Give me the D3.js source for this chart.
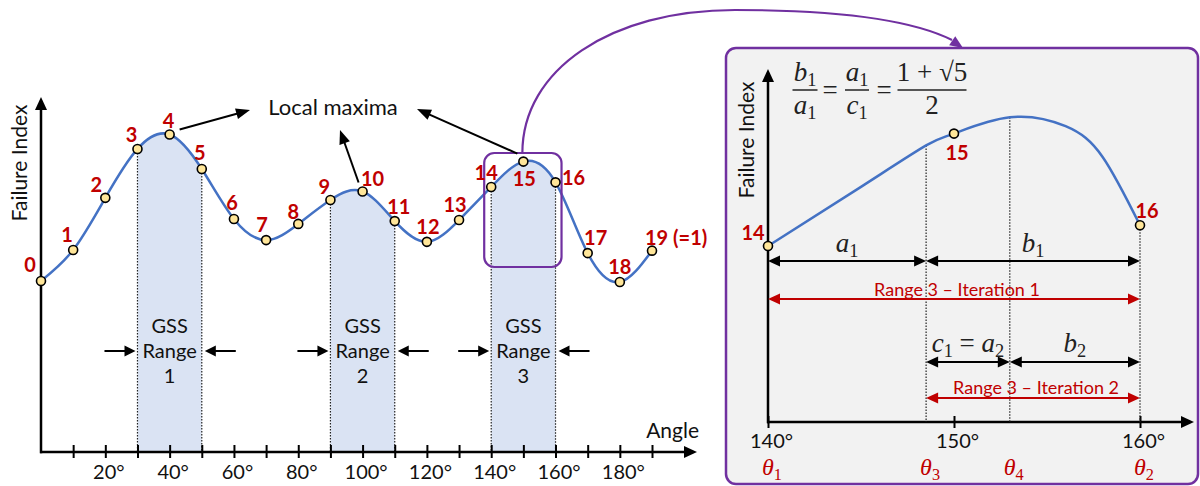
<!DOCTYPE html>
<html><head><meta charset="utf-8">
<script src="https://cdn.jsdelivr.net/npm/d3@7"></script>
<style>body{margin:0;background:#fff} svg{display:block}</style>
</head><body>
<svg id="c" width="1200" height="486"></svg>
<script>
// ---------- data ----------
const angles = [0,10,20,30,40,50,60,70,80,90,100,110,120,130,140,150,160,170,180,190];
const failureIndex = [0.486,0.574,0.722,0.861,0.902,0.804,0.662,0.602,0.648,0.716,0.740,0.656,0.597,0.659,0.753,0.825,0.766,0.565,0.483,0.572];
const pointLabels = ["0","1","2","3","4","5","6","7","8","9","10","11","12","13","14","15","16","17","18","19 (=1)"];
const tickAngles = [10,20,30,40,50,60,70,80,90,100,110,120,130,140,150,160,170,180,190];
const tickLabelAngles = [20,40,60,80,100,120,140,160,180];
const gssRanges = [[30,50],[90,110],[140,160]];
const gssNames = ["1","2","3"];
const maximaIdx = [4,10,15];

const zoomAngles = [140,145,148.5,150,153,156,158,160];
const zoomValues = [0.753,0.793,0.821,0.829,0.840,0.834,0.813,0.767];
const zoomPointAngles = [140,150,160];
const zoomPointLabels = ["14","15","16"];
const zoomTicks = [140,150,160];
const thetaAngles = [140,148.5,153,160];
const thetaNames = ["1","3","4","2"];

// ---------- styles ----------
const BLUE="#4472c4", SHADE="#dae3f3", RED="#c00000", PURPLE="#7030a0", PT="#ffe699", INK="#000";
const SANS="Lato, 'Open Sans', sans-serif", SERIF="'Liberation Serif', serif";

const svg = d3.select("#c");

function arrow(g,x1,y1,x2,y2,opt){
  const o=Object.assign({color:INK,w:2,hl:12,hw:10,start:false,end:true},opt||{});
  const a=Math.atan2(y2-y1,x2-x1), c=Math.cos(a), s=Math.sin(a);
  const sx=o.start?x1+c*o.hl*0.85:x1, sy=o.start?y1+s*o.hl*0.85:y1;
  const ex=o.end?x2-c*o.hl*0.85:x2, ey=o.end?y2-s*o.hl*0.85:y2;
  if(o.w>0) g.append("line").attr("x1",sx).attr("y1",sy).attr("x2",ex).attr("y2",ey)
    .attr("stroke",o.color).attr("stroke-width",o.w);
  function head(tx,ty,dc,ds){
    const bx=tx-dc*o.hl, by=ty-ds*o.hl;
    g.append("polygon").attr("points",[[tx,ty],[bx-ds*o.hw/2,by+dc*o.hw/2],[bx+ds*o.hw/2,by-dc*o.hw/2]].map(p=>p.join(",")).join(" "))
      .attr("fill",o.color);
  }
  if(o.end) head(x2,y2,c,s);
  if(o.start) head(x1,y1,-c,-s);
}

// ---------- main chart ----------
const xs = d3.scaleLinear().domain([0,190]).range([41,652]);
const ys = d3.scaleLinear().domain([0,1]).range([452,100]);
const pts = angles.map((a,i)=>({a,v:failureIndex[i],label:pointLabels[i]}));
const main = svg.append("g");

// shading under curve in GSS ranges
const defs = svg.append("defs");
const clip = defs.append("clipPath").attr("id","gssClip");
gssRanges.forEach(r=>clip.append("rect").attr("x",xs(r[0])).attr("y",0).attr("width",xs(r[1])-xs(r[0])).attr("height",ys(0)));
const area = d3.area().x(d=>xs(d.a)).y0(ys(0)).y1(d=>ys(d.v)).curve(d3.curveNatural);
main.append("path").datum(pts).attr("d",area).attr("fill",SHADE).attr("clip-path","url(#gssClip)");

// dotted edges
gssRanges.forEach(r=>r.forEach(e=>{
  const i=angles.indexOf(e);
  main.append("line").attr("x1",xs(e)).attr("x2",xs(e)).attr("y1",ys(failureIndex[i])+4).attr("y2",ys(0))
    .attr("stroke","#222").attr("stroke-width",1.2).attr("stroke-dasharray","1.5,1.5");
}));

// axes
const xAxis = d3.axisBottom(xs).tickValues(tickAngles).tickFormat(d=>tickLabelAngles.includes(d)?d+"°":"").tickSizeOuter(0);
const xg = main.append("g").attr("transform",`translate(0,${ys(0)})`).call(xAxis);
xg.select(".domain").remove();
xg.selectAll(".tick line").attr("y1",-7).attr("y2",6).attr("stroke",INK).attr("stroke-width",2);
xg.selectAll(".tick text").attr("x",3).attr("y",13).attr("font-family",SANS).attr("font-size",20).attr("fill","#111");
arrow(main,xs(0)-1,ys(0),697,ys(0),{w:2.5,hl:13,hw:12});
arrow(main,xs(0),ys(0)+1.2,xs(0),97,{w:2.5,hl:13,hw:12});
main.append("text").attr("x",699).attr("y",438).attr("text-anchor","end").attr("font-family",SANS).attr("font-size",21).attr("fill","#111").text("Angle");
main.append("text").attr("transform","translate(27,163) rotate(-90)").attr("text-anchor","middle")
  .attr("font-family",SANS).attr("font-size",21).attr("fill","#111").text("Failure Index");

// curve
const line = d3.line().x(d=>xs(d.a)).y(d=>ys(d.v)).curve(d3.curveNatural);
main.append("path").datum(pts).attr("d",line).attr("fill","none").attr("stroke",BLUE).attr("stroke-width",2.5);

// GSS range texts and arrows
gssRanges.forEach((r,k)=>{
  const cx=(xs(r[0])+xs(r[1]))/2;
  ["GSS","Range",gssNames[k]].forEach((t,j)=>{
    main.append("text").attr("x",cx).attr("y",333+j*25).attr("text-anchor","middle")
      .attr("font-family",SANS).attr("font-size",20).attr("fill","#111").text(t);
  });
  arrow(main,xs(r[0])-33,351,xs(r[0])-2,351,{w:2,hl:11,hw:11});
  arrow(main,xs(r[1])+34,351,xs(r[1])+3,351,{w:2,hl:11,hw:11});
});

// purple box around range 3
const r3=gssRanges[2];
main.append("rect").attr("x",xs(r3[0])-7).attr("y",153).attr("width",xs(r3[1])-xs(r3[0])+13).attr("height",114)
  .attr("rx",10).attr("fill","none").attr("stroke",PURPLE).attr("stroke-width",2.2);

// points
main.selectAll("circle.p").data(pts).join("circle").attr("class","p")
  .attr("cx",d=>xs(d.a)).attr("cy",d=>ys(d.v)).attr("r",4.5)
  .attr("fill",PT).attr("stroke",INK).attr("stroke-width",1.6);

// point labels
const labelOff = [[-11,-16],[-6,-15],[-9,-13],[-6,-14],[-1,-14],[-2,-16],[-2,-16],[-4,-15],[-5,-12],[-6,-13],[10,-13],[4,-14],[1,-15],[-4,-15],[-5,-14],[1,17],[18,-5],[8,-15],[0,-15],[4,-13]];
main.selectAll("text.pl").data(pts).join("text").attr("class","pl")
  .attr("x",(d,i)=>xs(d.a)+labelOff[i][0]-(d.label.length>3?11:0))
  .attr("y",(d,i)=>ys(d.v)+labelOff[i][1]).attr("dy","0.36em")
  .attr("text-anchor",d=>d.label.length>3?"start":"middle")
  .attr("font-family",SANS).attr("font-weight","bold").attr("font-size",20).attr("fill",RED)
  .text(d=>d.label);

// local maxima
main.append("text").attr("x",333).attr("y",115).attr("text-anchor","middle").attr("font-family",SANS).attr("font-size",22).attr("fill","#111").text("Local maxima");
const mOff=[[10,-5,250,110],[-4,-9,340,130],[-6,-8,417,109]];
maximaIdx.forEach((i,k)=>{
  arrow(main,xs(angles[i])+mOff[k][0],ys(failureIndex[i])+mOff[k][1],mOff[k][2],mOff[k][3],{w:2,hl:14,hw:11});
});

// purple connector
const conn = svg.append("g");
conn.append("path").attr("d",`M${xs(150)-1},153 C${xs(150)-1},70 610,10 735,10 C835,10 912,20 952,40`)
  .attr("fill","none").attr("stroke",PURPLE).attr("stroke-width",2.2);
arrow(conn,945,36,963,48,{color:PURPLE,w:0,hl:13,hw:11});

// ---------- zoom panel ----------
const panel = svg.append("g");
panel.append("rect").attr("x",726).attr("y",48).attr("width",472).attr("height",436).attr("rx",10)
  .attr("fill","#f2f2f2").attr("stroke",PURPLE).attr("stroke-width",2.5);
const zx = d3.scaleLinear().domain([140,160]).range([768,1140]);
const zy = d3.scaleLinear().domain([0.634,0.872]).range([422,70]);
const zpts = zoomAngles.map((a,i)=>({a,v:zoomValues[i]}));
const zAxis = d3.axisBottom(zx).tickValues(zoomTicks).tickFormat(d=>d+"°").tickSizeOuter(0);
const zg = panel.append("g").attr("transform",`translate(0,${zy(0.634)})`).call(zAxis);
zg.select(".domain").remove();
zg.selectAll(".tick line").attr("y1",-6).attr("y2",6).attr("stroke",INK).attr("stroke-width",2);
zg.selectAll(".tick text").attr("x",3).attr("y",12).attr("font-family",SANS).attr("font-size",20).attr("fill","#111");
arrow(panel,zx(140)-1,zy(0.634),1194,zy(0.634),{w:2.5,hl:13,hw:12});
arrow(panel,zx(140),zy(0.634)+1.2,zx(140),69,{w:2.5,hl:13,hw:12});
panel.append("text").attr("transform","translate(754,140) rotate(-90)").attr("text-anchor","middle")
  .attr("font-family",SANS).attr("font-size",21).attr("fill","#111").text("Failure Index");

// dotted verticals at theta3, theta4, theta2
thetaAngles.slice(1).forEach(t=>{
  const i=zoomAngles.indexOf(t);
  panel.append("line").attr("x1",zx(t)).attr("x2",zx(t)).attr("y1",zy(zoomValues[i])+(t===160?4:0)).attr("y2",zy(0.634))
    .attr("stroke","#222").attr("stroke-width",1.2).attr("stroke-dasharray","1.5,1.5");
});

const zline = d3.line().x(d=>zx(d.a)).y(d=>zy(d.v)).curve(d3.curveNatural);
panel.append("path").datum(zpts).attr("d",zline).attr("fill","none").attr("stroke",BLUE).attr("stroke-width",2.5);

// dimension arrows
const [t1,t3,t4,t2]=thetaAngles;
const dimArr=(a,b,y,col)=>arrow(panel,zx(a),y,zx(b),y,{color:col,w:2,hl:12,hw:11,start:true});
dimArr(t1,t3,261,INK); dimArr(t3,t2,261,INK);
dimArr(t1,t2,299,RED);
dimArr(t3,t4,362,INK); dimArr(t4,t2,362,INK);
dimArr(t3,t2,398,RED);
panel.append("text").attr("x",(zx(t1)+zx(t2))/2+3).attr("y",296).attr("text-anchor","middle").attr("font-family",SANS).attr("font-size",18).attr("fill",RED).text("Range 3 – Iteration 1");
panel.append("text").attr("x",(zx(t3)+zx(t2))/2+3).attr("y",394).attr("text-anchor","middle").attr("font-family",SANS).attr("font-size",18).attr("fill",RED).text("Range 3 – Iteration 2");

// math labels
function mathText(g,x,y,parts,opt){
  const o=Object.assign({size:27,fill:"#222",anchor:"middle"},opt||{});
  const t=g.append("text").attr("x",x).attr("y",y).attr("text-anchor",o.anchor).attr("font-family",SERIF).attr("font-size",o.size).attr("fill",o.fill);
  parts.forEach(p=>{
    const ts=t.append("tspan").text(p.t);
    if(p.i) ts.attr("font-style","italic");
    if(p.sub) ts.attr("font-size",o.size*0.68).attr("dy",5);
    if(p.up) ts.attr("dy",-5);
  });
  return t;
}
const sub=(l,n)=>[{t:l,i:true},{t:n,sub:true}];
mathText(panel,(zx(t1)+zx(t3))/2,252,sub("a","1"));
mathText(panel,(zx(t3)+zx(t2))/2,252,sub("b","1"));
mathText(panel,(zx(t3)+zx(t4))/2,352,[...sub("c","1"),{t:" = ",up:true},...sub("a","2")]);
mathText(panel,(zx(t4)+zx(t2))/2,352,sub("b","2"));
thetaAngles.forEach((t,i)=>mathText(panel,zx(t)+4,475,sub("θ",thetaNames[i]),{fill:RED,size:24}));

// formula
const f=panel.append("g");
const frac=(cx,w,num,den)=>{
  f.append("line").attr("x1",cx-w/2).attr("x2",cx+w/2).attr("y1",90).attr("y2",90).attr("stroke","#222").attr("stroke-width",1.5);
  mathText(f,cx,81,num); mathText(f,cx,114,den);
};
frac(805,25,sub("b","1"),sub("a","1"));
mathText(f,830,99,[{t:"="}]);
frac(857,24,sub("a","1"),sub("c","1"));
mathText(f,884,99,[{t:"="}]);
frac(932,69,[{t:"1 + √5"}],[{t:"2"}]);

// zoom points
const zp = zoomPointAngles.map((a,k)=>({a,v:zoomValues[zoomAngles.indexOf(a)],label:zoomPointLabels[k]}));
const zOff=[[-15,-13],[3,19],[7,-14]];
panel.selectAll("circle.zp").data(zp).join("circle").attr("class","zp")
  .attr("cx",d=>zx(d.a)).attr("cy",d=>zy(d.v)).attr("r",4.5).attr("fill",PT).attr("stroke",INK).attr("stroke-width",1.6);
panel.selectAll("text.zl").data(zp).join("text").attr("class","zl")
  .attr("x",(d,i)=>zx(d.a)+zOff[i][0]).attr("y",(d,i)=>zy(d.v)+zOff[i][1]).attr("dy","0.36em")
  .attr("text-anchor","middle").attr("font-family",SANS).attr("font-weight","bold").attr("font-size",20).attr("fill",RED).text(d=>d.label);
</script>
</body></html>
